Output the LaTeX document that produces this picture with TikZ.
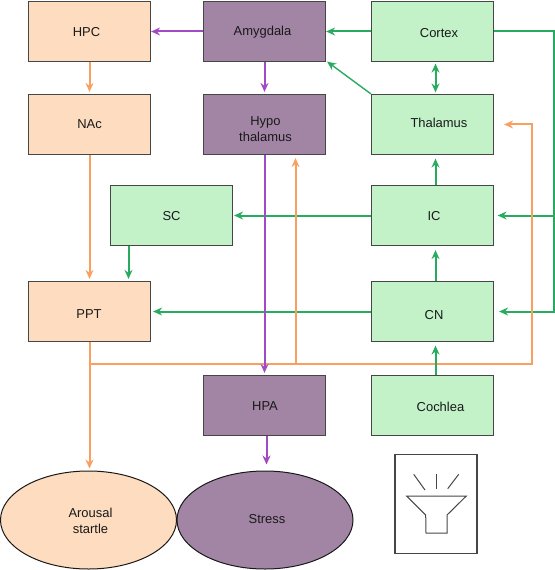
\documentclass[tikz,border=0pt]{standalone}
\usepackage{xcolor}
\usepackage{fontspec}
\setmainfont{Liberation Sans}
\usetikzlibrary{shapes.geometric, arrows.meta, positioning, calc}
\definecolor{peach}{RGB}{253, 220, 191}
\definecolor{plum}{RGB}{162, 133, 165}
\definecolor{mint}{RGB}{195, 242, 201}
\definecolor{edge}{RGB}{70, 70, 70}
\definecolor{ink}{RGB}{25, 25, 25}
\definecolor{orangeline}{RGB}{248, 160, 95}
\definecolor{greenline}{RGB}{40, 170, 95}
\definecolor{purpleline}{RGB}{160, 75, 195}
% label inside a box: x offset (twice), baseline below the centre, text
\newcommand{\lab}[3]{\raisebox{-#2pt}[0pt][0pt]{\makebox[0pt]{\hspace*{#1pt}#3}}}
\newcommand{\twolines}[2]{\begin{tabular}{@{}c@{}}#1\\#2\end{tabular}}

\begin{document}
\begin{tikzpicture}[x=1bp, y=-1bp,
  box/.style={rectangle, draw=edge, line width=1.2bp,
    font=\fontsize{13pt}{16pt}\selectfont, text=ink,
    minimum width=122bp, minimum height=60bp,
    text centered, inner sep=0pt},
  oval/.style={ellipse, draw=ink, line width=1bp,
    font=\fontsize{13pt}{16pt}\selectfont, text=ink,
    minimum width=176bp, minimum height=98bp,
    text centered, inner sep=0pt},
  grn/.style={-{Stealth[length=9bp, width=8bp, inset=3bp]}, line width=2bp, color=greenline},
  ora/.style={-{Stealth[length=9bp, width=8bp, inset=3bp]}, line width=2bp, color=orangeline},
  pur/.style={-{Stealth[length=9bp, width=8bp, inset=3bp]}, line width=2bp, color=purpleline},
  bigrn/.style={{Stealth[length=9bp, width=8bp, inset=3bp]}-{Stealth[length=9bp, width=8bp, inset=3bp]}, line width=2bp, color=greenline},
  icon/.style={draw=edge, line width=1bp}
]
\useasboundingbox (0,0) rectangle (555,570);
% Left column
\node[box, fill=peach] at (89.5, 31.5) (hpc) {\lab{-6}{5.2}{HPC}};
\node[box, fill=peach] at (89.5, 124.5) (nac) {\lab{0}{4.2}{NAc}};
\node[box, fill=peach] at (89.5, 311.5) (ppt) {\lab{-1}{6.8}{PPT}};
\node[box, fill=mint] at (171.5, 215.5) (sc) {\lab{0}{4.8}{SC}};
% Middle column
\node[box, fill=plum] at (264.5, 31.5) (amy) {\lab{-4}{3.7}{Amygdala}};
\node[box, fill=plum] at (264.5, 124.5) (hypo) {\lab{2}{9}{\twolines{Hypo}{thalamus}}};
\node[box, fill=plum] at (264.5, 405.5) (hpa) {\lab{1}{5}{HPA}};
% Right column
\node[box, fill=mint] at (432.5, 31.5) (cortex) {\lab{13}{6.2}{Cortex}};
\node[box, fill=mint] at (432.5, 124.5) (thal) {\lab{13}{2.9}{Thalamus}};
\node[box, fill=mint] at (432.5, 215.5) (ic) {\lab{3}{5.1}{IC}};
\node[box, fill=mint] at (432.5, 311.5) (cn) {\lab{3}{8}{CN}};
\node[box, fill=mint] at (432.5, 405.5) (coch) {\lab{16}{5.7}{Cochlea}};
% Outcomes
\node[oval, fill=peach] at (88.5, 520) (arousal) {\lab{4}{5.5}{\twolines{Arousal}{startle}}};
\node[oval, fill=plum] at (265, 520) (stress) {\lab{4}{3.4}{Stress}};
% Routing points
\coordinate (railtop) at (553.5, 31.5);
\coordinate (railic) at (553.5, 215.5);
\coordinate (railcn) at (553.5, 311.5);
\coordinate (pptjoin) at (89.5, 363.5);
\coordinate (hypojoin) at (295.5, 363.5);
\coordinate (orangeend) at (531.5, 363.5);
\coordinate (orangetop) at (531.5, 124.5);
% Green paths
\draw[grn, shorten >=1bp] (ic.west) -- (sc.east);
\draw[grn, shorten >=2bp] ([xshift=-43bp]sc.south) -- ([xshift=-43bp]sc.south |- ppt.north);
\draw[grn, shorten >=2bp] (cn.west) -- (ppt.east);
\draw[grn] (cortex.west) -- (amy.east);
\draw[grn, line width=1.4bp] (thal.north west) -- ([shift={(1bp,0.5bp)}]amy.south east);
\draw[bigrn, shorten <=1.5bp, shorten >=1.5bp] ([xshift=3bp]cortex.south) -- ([xshift=3bp]thal.north);
\draw[grn, shorten >=3.5bp] ([xshift=3bp]ic.north) -- ([xshift=3bp]thal.south);
\draw[grn, shorten >=4bp] ([xshift=3bp]cn.north) -- ([xshift=3bp]ic.south);
\draw[grn, shorten >=5bp] (cortex.east) -- (railtop) -- (railcn) -- (cn.east);
\draw[grn, shorten >=3.5bp] (railic) -- (ic.east);
% Orange paths
\draw[ora, shorten >=2bp] (hpc.south) -- (nac.north);
\draw[ora, shorten >=2bp] (nac.south) -- (ppt.north);
\draw[ora, shorten >=2bp] (ppt.south) -- (ppt.south |- arousal.north);
\draw[ora, shorten >=10bp] (pptjoin) -- (orangeend) -- (orangetop) -- (thal.east);
\draw[ora, shorten >=3bp] (hypojoin) -- (hypojoin |- hypo.south);
% Purple paths
\draw[pur] (amy.west) -- (hpc.east);
\draw[pur, shorten >=2bp] (amy.south) -- (hypo.north);
\draw[pur, shorten >=2bp] (hypo.south) -- (hpa.north);
\draw[pur, shorten >=6bp] ([xshift=2bp]hpa.south) -- ([xshift=2bp]hpa.south |- stress.north);
% Cochlea on top of the orange line
\draw[grn, shorten >=3.5bp] ([xshift=3bp]coch.north) -- ([xshift=3bp]cn.south);
% Loudspeaker
\node[rectangle, draw=edge, line width=1.2bp, minimum width=82bp, minimum height=99bp, inner sep=0pt]
  at (436, 504) (speaker) {};
\draw[icon] (406.7, 496) -- (466.3, 496) -- (447, 515) -- (447, 533) -- (426, 533) -- (425.7, 515) -- cycle;
\draw[icon] (413.7, 474.3) -- (425, 490);
\draw[icon] (436.7, 474.3) -- (436.7, 489);
\draw[icon] (458.7, 474.3) -- (447.7, 488.7);
\end{tikzpicture}
\end{document}
